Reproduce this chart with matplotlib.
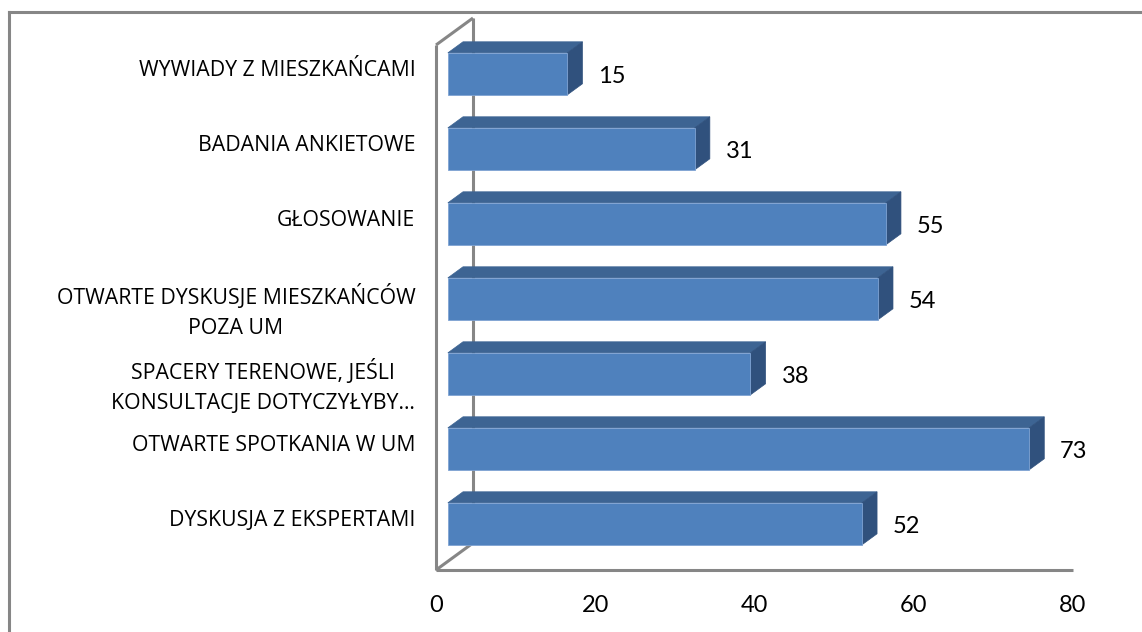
import matplotlib
matplotlib.use('Agg')
import matplotlib.pyplot as plt
from matplotlib.patches import Polygon
from matplotlib.lines import Line2D

categories = [
    'WYWIADY Z MIESZKAŃCAMI',
    'BADANIA ANKIETOWE',
    'GŁOSOWANIE',
    'OTWARTE DYSKUSJE MIESZKAŃCÓW\nPOZA UM',
    'SPACERY TERENOWE, JEŚLI\nKONSULTACJE DOTYCZYŁYBY…',
    'OTWARTE SPOTKANIA W UM',
    'DYSKUSJA Z EKSPERTAMI',
]
values = [15, 31, 55, 54, 38, 73, 52]
ticks = [0, 20, 40, 60, 80]

FRONT = '#4F81BD'
TOP = '#3D6493'
SIDE = '#30517D'
GRID = '#868686'

W, H = 1142, 632
# pixel mapping: x=0 at px 436, 80 at px 1073; category i centre (depth 0) at px 82.5+75*i
s = (1073 - 436) / 80.0
x0px, y0px, step = 436, 82.5, 75.0

# depth projection (full depth) in data units
DX = 37 / s
DY = -27 / step
z0, z1 = 0.32, 0.73
bh = 0.56

plt.rcParams['font.family'] = ['Lato', 'DejaVu Sans']

fig = plt.figure(figsize=(W / 100, H / 100), dpi=100)
ax = fig.add_axes([0, 0, 1, 1])
ax.set_xlim(-x0px / s, (W - x0px) / s)
ax.set_ylim((H - y0px) / step, -y0px / step)
ax.axis('off')

n = len(categories)
ytop, ybot = -0.5, n - 0.5

# side wall and floor
wall = dict(color=GRID, lw=2.2, solid_capstyle='butt', zorder=1)
ax.plot([0, 0], [ytop, ybot], **wall)
ax.plot([DX, DX], [ytop + DY, ybot + DY], **wall)
ax.plot([0, DX], [ytop, ytop + DY], **wall)
ax.plot([0, DX], [ybot, ybot + DY], **wall)
ax.plot([0, ticks[-1]], [ybot, ybot], **wall)

# bars
for i, v in enumerate(values):
    xl = DX * z0
    yc = i + DY * z0
    yt, yb = yc - bh / 2, yc + bh / 2
    ddx, ddy = DX * (z1 - z0), DY * (z1 - z0)
    ax.barh(yc, v, left=xl, height=bh, color=FRONT, edgecolor='#7FA3D3',
            linewidth=0.6, zorder=3)
    ax.add_patch(Polygon([(xl, yt), (xl + v, yt), (xl + v + ddx, yt + ddy),
                          (xl + ddx, yt + ddy)], closed=True,
                         facecolor=TOP, edgecolor=TOP, lw=0.5, zorder=2))
    ax.add_patch(Polygon([(xl + v, yt), (xl + v + ddx, yt + ddy),
                          (xl + v + ddx, yb + ddy), (xl + v, yb)], closed=True,
                         facecolor=SIDE, edgecolor=SIDE, lw=0.5, zorder=2))
    ax.text(xl + v + 3.9, yc + 0.03, str(v), ha='left', va='center',
            fontsize=17, color='black')
    two = '\n' in categories[i]
    ax.text(-2.6, yc + (0.17 if two else -0.04), categories[i], ha='right',
            va='center', multialignment='center', fontsize=15.3,
            color='black', linespacing=1.55, family=['Open Sans', 'DejaVu Sans'])

for t in ticks:
    ax.text(t, ybot + 0.47, str(t), ha='center', va='center', fontsize=17)

# outer border (left and top)
fig.add_artist(Line2D([8.5 / W, 8.5 / W], [0, 1 - 12 / H], color=GRID, lw=2.2))
fig.add_artist(Line2D([8.5 / W, 1], [1 - 12 / H, 1 - 12 / H], color=GRID, lw=2.2))

fig.savefig('out.png', dpi=100)
